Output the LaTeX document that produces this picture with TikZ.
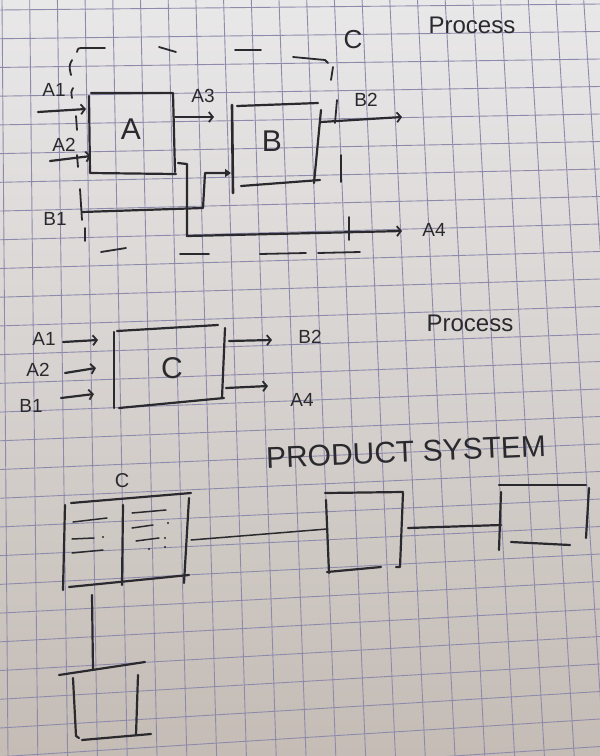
\documentclass[tikz,border=0pt]{standalone}
\usepackage{fontspec}
\setmainfont{Liberation Sans}
\usetikzlibrary{arrows.meta}
\definecolor{paperTop}{RGB}{233,232,233}
\definecolor{paperBot}{RGB}{196,188,181}
\definecolor{gridc}{RGB}{142,138,172}
\definecolor{ink}{RGB}{42,42,46}
\begin{document}
\begin{tikzpicture}[x=1pt,y=-1pt,
  sk/.style={ink, line width=2.2pt, line cap=round, line join=round},
  thinsk/.style={ink, line width=1.5pt, line cap=round, line join=round},
  bnd/.style={ink, line width=1.8pt, line cap=round},
  arr/.style={sk, -{Straight Barb[length=4pt,width=10pt,line width=1.8pt]}},
  tri/.style={sk, -{Triangle[length=6pt,width=8pt]}},
  lbl/.style={text=ink, inner sep=0pt, font=\fontsize{19}{19}\selectfont},
  big/.style={text=ink, inner sep=0pt, font=\fontsize{30}{30}\selectfont},
  ttl/.style={text=ink, inner sep=0pt, font=\fontsize{24}{24}\selectfont}]
\useasboundingbox (0,0) rectangle (600,756);
\fill[top color=paperTop, bottom color=paperBot] (0,0) rectangle (600,756);
\begin{scope}
\clip (0,0) rectangle (600,756);
\foreach \i in {0,...,21} {\draw[gridc, line width=0.9pt] ({2+27.7*\i},0) -- ({8+29.8*\i},756);}
\foreach \j in {0,...,27} {\draw[gridc, line width=0.9pt] (0,{10+28.72*\j}) -- (600,{4+27.5*\j});}
\end{scope}

% ================= TOP: process C made of A and B =================
\node[ttl] (proc1) at (472,25) {Process};
\node[big, font=\fontsize{26}{26}\selectfont] (Ctop) at (353,40) {C};

% box A
\coordinate (Atl) at (91,93); \coordinate (Atr) at (173,93);
\coordinate (Abl) at (90,173); \coordinate (Abr) at (176,174);
\draw[sk] (Atl) -- (Atr) -- (175,172);
\draw[sk] (89,96) -- (Abl) -- (Abr);
\node[big] (Alab) at (131,129) {A};

% box B
\draw[sk, line width=2.6pt] (232,105) -- (233,193);
\draw[sk] (237,106) -- (318,103);
\draw[sk] (321,110) -- (314,183);
\draw[sk] (241,186) -- (320,180);
\node[big] (Blab) at (272,141) {B};
\coordinate (Bin) at (231,173);
\coordinate (Bout) at (321,122);

% flows
\node[lbl] (A1t) at (54,90) {A1};
\coordinate (A1s) at (38,112); \coordinate (A1e) at (86,109);
\draw[arr] (A1s) -- (A1e);

\node[lbl] (A2t) at (64,145) {A2};
\coordinate (A2s) at (50,161); \coordinate (A2e) at (91,156);
\draw[arr] (A2s) -- (A2e);

\node[lbl] (A3t) at (203,96) {A3};
\coordinate (A3s) at (175,117); \coordinate (A3e) at (214,117);
\draw[arr] (A3s) -- (A3e);

\node[lbl] (B2t) at (366,100) {B2};
\coordinate (B2e) at (402,117);
\draw[arr] (Bout) -- (B2e);

\node[lbl] (B1t) at (55,219) {B1};
\coordinate (B1s) at (82,212);
\draw[tri] (B1s) -- (203,208) -- (205,173) -- (Bin);

\node[lbl] (A4t) at (434,230) {A4};
\coordinate (A4s) at (178,163); \coordinate (A4e) at (402,231);
\draw[arr] (A4s) -- (187,164) -- (187,236) -- (A4e);

% dashed system boundary (hand drawn)
\draw[bnd] (72,60) .. controls (69,66) .. (71,75);
\draw[bnd] (77,52) .. controls (78,48) .. (84,48) -- (105,48);
\draw[bnd] (159,47) -- (176,52);
\draw[bnd] (235,50) -- (261,50);
\draw[bnd] (293,57) -- (325,60) -- (328,63);
\draw[bnd] (333,67) -- (331,80);
\draw[bnd] (337,100) -- (335,123);
\draw[bnd] (341,155) -- (341,182);
\draw[bnd] (349,217) -- (349,240);
\draw[bnd] (101,252) -- (126,248);
\draw[bnd] (180,254) -- (209,254);
\draw[bnd] (260,254) -- (306,253);
\draw[bnd] (318,253) -- (360,252);
\draw[bnd] (73,88) .. controls (71,92) .. (72,98);
\draw[bnd] (76,116) -- (77,130);
\draw[bnd] (77,155) -- (78,167);
\draw[bnd] (80,189) -- (82,220);
\draw[bnd] (85,228) -- (85,241);

% ================= MIDDLE: process C as black box =================
\node[ttl] (proc2) at (470,323) {Process};
\draw[sk] (114,332) -- (114,408);
\draw[sk] (117,331) -- (218,325);
\draw[sk] (225,328) -- (222,398);
\draw[sk] (119,408) -- (224,398);
\node[big] (Cmid) at (172,368) {C};

\node[lbl] (mA1) at (44,339) {A1};
\draw[arr] (63,342) -- (98,340);
\node[lbl] (mA2) at (38,370) {A2};
\draw[arr] (65,373) -- (96,368);
\node[lbl] (mB1) at (31,406) {B1};
\draw[arr] (61,398) -- (94,394);
\node[lbl] (mB2) at (310,337) {B2};
\draw[arr] (229,341) -- (272,340);
\node[lbl] (mA4) at (302,400) {A4};
\draw[arr] (226,388) -- (268,386);

\node[ttl, font=\fontsize{30}{30}\selectfont, rotate=2.5] (ps) at (406,452) {PRODUCT SYSTEM};

% ================= BOTTOM: product system =================
\node[lbl, font=\fontsize{20}{20}\selectfont] (Cbot) at (122,481) {C};
\draw[sk] (71,503) -- (191,493);
\draw[sk] (65,505) -- (63,590);
\draw[sk] (189,498) -- (184,583);
\draw[sk] (69,587) -- (189,575);
\draw[sk] (123,505) -- (122,585);
\coordinate (Cr) at (191,540);
\coordinate (Cb) at (92,595);
% sketchy content of the box
\begin{scope}[thinsk]
\draw (73,522) -- (107,518);
\draw (72,539) -- (94,538);
\draw (72,553) -- (103,550);
\draw (132,513) -- (166,510);
\draw (132,528) -- (153,525);
\draw (136,541) -- (159,538);
\end{scope}
\foreach \p in {(103,537),(168,523),(165,538),(149,549),(165,547)} \fill[ink] \p circle (1.1pt);

% box 2
\draw[sk] (326,500) -- (329,573);
\draw[sk] (325,493) -- (403,492);
\draw[sk] (403,493) -- (400,567) -- (396,567);
\draw[sk] (327,572) -- (381,567);
\coordinate (P2l) at (327,529);
\coordinate (P2r) at (408,528);

% box 3
\draw[sk] (499,485) -- (586,485);
\draw[sk] (501,492) -- (499,550);
\draw[sk] (589,488) -- (586,538);
\draw[sk] (511,542) -- (570,545);
\coordinate (P3l) at (501,525);

% box 4
\draw[sk] (59,675) -- (145,662);
\draw[sk] (73,678) -- (76,736) -- (79,738);
\draw[sk] (138,675) -- (136,735);
\draw[sk] (82,740) -- (151,734);
\coordinate (P4t) at (93,669);

% links
\draw[thinsk] (Cr) -- (P2l);
\draw[sk] (P2r) -- (P3l);
\draw[sk] (Cb) -- (P4t);
\end{tikzpicture}
\end{document}
